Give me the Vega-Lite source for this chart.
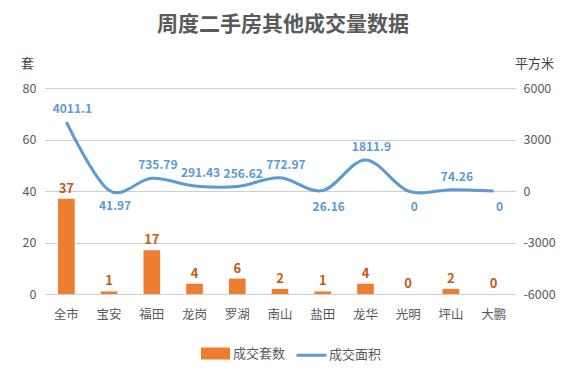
{
  "$schema": "https://vega.github.io/schema/vega-lite/v6.json",
  "width": 470,
  "height": 206,
  "autosize": {"type": "none"},
  "padding": {"left": 45, "top": 88, "right": 58, "bottom": 94},
  "background": "white",
  "title": {"text": "周度二手房其他成交量数据", "fontSize": 21, "fontWeight": "bold", "color": "#595959", "font": "Noto Sans CJK SC", "anchor": "middle", "frame": "group", "offset": 22, "dx": 3},
  "config": {
    "font": "Noto Sans CJK SC",
    "view": {"stroke": null},
    "axis": {"labelFont": "Noto Sans CJK SC", "labelColor": "#595959", "labelFontSize": 12.5, "titleFont": "Noto Sans CJK SC", "titleColor": "#404040", "titleFontSize": 13, "titleFontWeight": "normal", "ticks": false, "domain": false, "gridColor": "#CFCFCF", "gridWidth": 1}
  },
  "data": {"values": [
    {"区域": "全市", "套数": 37, "面积": 4011.1},
    {"区域": "宝安", "套数": 1, "面积": 41.97},
    {"区域": "福田", "套数": 17, "面积": 735.79},
    {"区域": "龙岗", "套数": 4, "面积": 291.43},
    {"区域": "罗湖", "套数": 6, "面积": 256.62},
    {"区域": "南山", "套数": 2, "面积": 772.97},
    {"区域": "盐田", "套数": 1, "面积": 26.16},
    {"区域": "龙华", "套数": 4, "面积": 1811.9},
    {"区域": "光明", "套数": 0, "面积": 0},
    {"区域": "坪山", "套数": 2, "面积": 74.26},
    {"区域": "大鹏", "套数": 0, "面积": 0}
  ]},
  "encoding": {
    "x": {"field": "区域", "type": "nominal", "sort": null, "scale": {"paddingInner": 0.61, "paddingOuter": 0.305},
      "axis": {"title": null, "labelAngle": 0, "labelPadding": 14, "grid": false, "labelFontSize": 12.5}}
  },
  "layer": [
    {
      "encoding": {
        "y": {"field": "套数", "type": "quantitative", "scale": {"domain": [0, 80]},
          "axis": {"values": [0, 20, 40, 60, 80], "title": "套", "titleAngle": 0, "titleX": -18, "titleY": -25, "titleAlign": "center", "titleBaseline": "middle", "labelPadding": 9, "grid": true}}
      },
      "layer": [
        {"mark": {"type": "bar", "color": "#ED7D31"},
          "encoding": {"color": {"datum": "成交套数", "type": "nominal",
            "scale": {"domain": ["成交套数", "成交面积"], "range": ["#ED7D31", "#5B9BD5"]},
            "legend": {"title": null, "orient": "none", "legendX": 159, "legendY": 254, "direction": "horizontal", "labelFontSize": 13, "labelColor": "#595959", "labelFont": "Noto Sans CJK SC", "symbolSize": 400, "symbolStrokeWidth": 3, "columnPadding": 4, "labelOffset": 6,
              "symbolType": {"expr": "datum.value == '成交面积' ? 'M-1.5,0H1.5' : 'M-1.3,-0.45H1.3V0.45H-1.3Z'"}}}}},
        {"mark": {"type": "text", "dy": -10, "fontSize": 13, "fontWeight": "bold", "color": "#C55A11", "baseline": "middle"},
          "encoding": {"text": {"field": "套数", "type": "quantitative"}}}
      ]
    },
    {
      "encoding": {
        "y": {"field": "面积", "type": "quantitative", "scale": {"domain": [-6000, 6000]},
          "axis": {"orient": "right", "values": [-6000, -3000, 0, 3000, 6000], "labelExpr": "datum.value + ''", "title": "平方米", "titleAngle": 0, "titleX": 19, "titleY": -25, "titleAlign": "center", "titleBaseline": "middle", "labelPadding": 8, "labelAlign": "left", "grid": false}}
      },
      "layer": [
        {"mark": {"type": "line", "interpolate": "cardinal", "strokeWidth": 3, "color": "#5B9BD5"},
          "encoding": {"color": {"datum": "成交面积", "type": "nominal"}}},
        {"transform": [{"filter": {"not": {"field": "区域", "oneOf": ["宝安", "盐田", "光明", "大鹏"]}}}],
          "mark": {"type": "text", "dy": -13, "dx": 6, "fontSize": 12, "fontWeight": "bold", "color": "#5B9BD5", "baseline": "middle"},
          "encoding": {"text": {"field": "面积", "type": "quantitative"}}},
        {"transform": [{"filter": {"field": "区域", "oneOf": ["宝安", "盐田", "光明", "大鹏"]}}],
          "mark": {"type": "text", "dy": 16, "dx": 6, "fontSize": 12, "fontWeight": "bold", "color": "#5B9BD5", "baseline": "middle"},
          "encoding": {"text": {"field": "面积", "type": "quantitative"}}}
      ]
    }
  ],
  "resolve": {"scale": {"y": "independent"}}
}
